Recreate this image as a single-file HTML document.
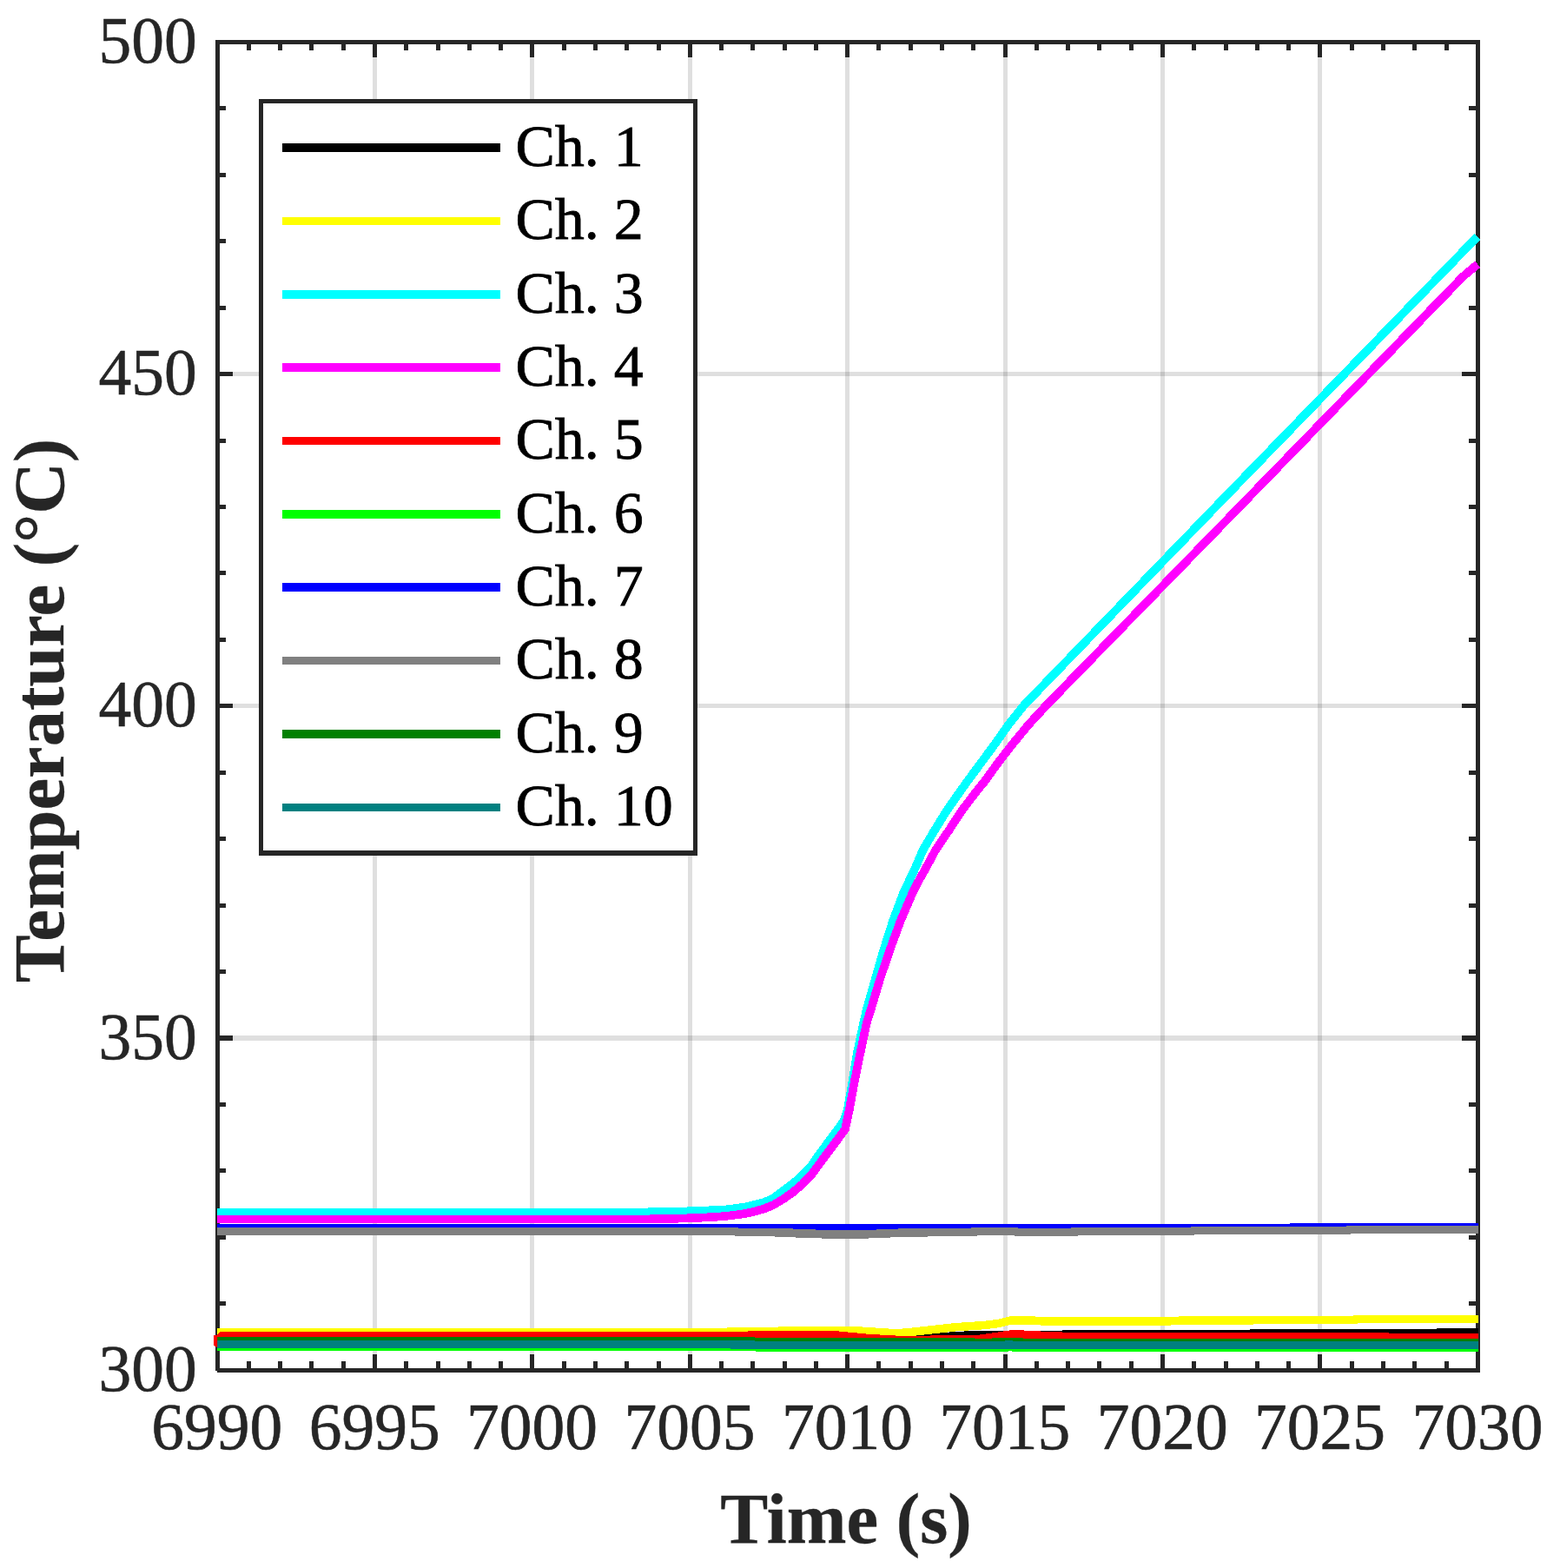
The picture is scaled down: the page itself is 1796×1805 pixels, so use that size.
<!DOCTYPE html>
<html lang="en"><head><meta charset="utf-8"><title>Temperature vs Time</title>
<style>
html,body{margin:0;padding:0;background:#fff;}
body{width:1796px;height:1805px;overflow:hidden;}
svg{display:block;}
text{font-family:"Liberation Serif",serif;}
.tk{font-size:75.5px;fill:#262626;stroke:#262626;stroke-width:0.6;}
.lb{font-size:82.5px;font-weight:bold;fill:#262626;stroke:#262626;stroke-width:0.3;}
.lg{font-size:68px;fill:#000;stroke:#000;stroke-width:0.8;}
</style></head><body>
<svg width="1796" height="1805" viewBox="0 0 1796 1805" role="img" aria-label="Temperature versus time for channels 1 to 10">
<rect x="0" y="0" width="1796" height="1805" fill="#fff"/>
<g stroke="#262626" stroke-opacity="0.15" stroke-width="5" fill="none" shape-rendering="crispEdges">
<line x1="431.50" y1="51.00" x2="431.50" y2="1575.00"/>
<line x1="612.90" y1="51.00" x2="612.90" y2="1575.00"/>
<line x1="794.30" y1="51.00" x2="794.30" y2="1575.00"/>
<line x1="975.70" y1="51.00" x2="975.70" y2="1575.00"/>
<line x1="1157.10" y1="51.00" x2="1157.10" y2="1575.00"/>
<line x1="1338.50" y1="51.00" x2="1338.50" y2="1575.00"/>
<line x1="1519.90" y1="51.00" x2="1519.90" y2="1575.00"/>
<line x1="253.00" y1="1195.00" x2="1699.00" y2="1195.00" stroke-width="6"/>
<line x1="253.00" y1="812.80" x2="1699.00" y2="812.80" stroke-width="5"/>
<line x1="253.00" y1="430.55" x2="1699.00" y2="430.55" stroke-width="5"/>
</g>
<g stroke="#262626" stroke-width="5" fill="none" shape-rendering="crispEdges">
<path d="M248 48.5H1704M1701.5 46V1580M250 1577.5H1704M250.5 46V1578"/>
<line x1="286.38" y1="48.30" x2="286.38" y2="57.80"/>
<line x1="286.38" y1="1577.30" x2="286.38" y2="1566.80"/>
<line x1="322.66" y1="48.30" x2="322.66" y2="57.80"/>
<line x1="322.66" y1="1577.30" x2="322.66" y2="1566.80"/>
<line x1="358.94" y1="48.30" x2="358.94" y2="57.80"/>
<line x1="358.94" y1="1577.30" x2="358.94" y2="1566.80"/>
<line x1="395.22" y1="48.30" x2="395.22" y2="57.80"/>
<line x1="395.22" y1="1577.30" x2="395.22" y2="1566.80"/>
<line x1="431.50" y1="48.30" x2="431.50" y2="65.80"/>
<line x1="431.50" y1="1577.30" x2="431.50" y2="1558.80"/>
<line x1="467.78" y1="48.30" x2="467.78" y2="57.80"/>
<line x1="467.78" y1="1577.30" x2="467.78" y2="1566.80"/>
<line x1="504.06" y1="48.30" x2="504.06" y2="57.80"/>
<line x1="504.06" y1="1577.30" x2="504.06" y2="1566.80"/>
<line x1="540.34" y1="48.30" x2="540.34" y2="57.80"/>
<line x1="540.34" y1="1577.30" x2="540.34" y2="1566.80"/>
<line x1="576.62" y1="48.30" x2="576.62" y2="57.80"/>
<line x1="576.62" y1="1577.30" x2="576.62" y2="1566.80"/>
<line x1="612.90" y1="48.30" x2="612.90" y2="65.80"/>
<line x1="612.90" y1="1577.30" x2="612.90" y2="1558.80"/>
<line x1="649.18" y1="48.30" x2="649.18" y2="57.80"/>
<line x1="649.18" y1="1577.30" x2="649.18" y2="1566.80"/>
<line x1="685.46" y1="48.30" x2="685.46" y2="57.80"/>
<line x1="685.46" y1="1577.30" x2="685.46" y2="1566.80"/>
<line x1="721.74" y1="48.30" x2="721.74" y2="57.80"/>
<line x1="721.74" y1="1577.30" x2="721.74" y2="1566.80"/>
<line x1="758.02" y1="48.30" x2="758.02" y2="57.80"/>
<line x1="758.02" y1="1577.30" x2="758.02" y2="1566.80"/>
<line x1="794.30" y1="48.30" x2="794.30" y2="65.80"/>
<line x1="794.30" y1="1577.30" x2="794.30" y2="1558.80"/>
<line x1="830.58" y1="48.30" x2="830.58" y2="57.80"/>
<line x1="830.58" y1="1577.30" x2="830.58" y2="1566.80"/>
<line x1="866.86" y1="48.30" x2="866.86" y2="57.80"/>
<line x1="866.86" y1="1577.30" x2="866.86" y2="1566.80"/>
<line x1="903.14" y1="48.30" x2="903.14" y2="57.80"/>
<line x1="903.14" y1="1577.30" x2="903.14" y2="1566.80"/>
<line x1="939.42" y1="48.30" x2="939.42" y2="57.80"/>
<line x1="939.42" y1="1577.30" x2="939.42" y2="1566.80"/>
<line x1="975.70" y1="48.30" x2="975.70" y2="65.80"/>
<line x1="975.70" y1="1577.30" x2="975.70" y2="1558.80"/>
<line x1="1011.98" y1="48.30" x2="1011.98" y2="57.80"/>
<line x1="1011.98" y1="1577.30" x2="1011.98" y2="1566.80"/>
<line x1="1048.26" y1="48.30" x2="1048.26" y2="57.80"/>
<line x1="1048.26" y1="1577.30" x2="1048.26" y2="1566.80"/>
<line x1="1084.54" y1="48.30" x2="1084.54" y2="57.80"/>
<line x1="1084.54" y1="1577.30" x2="1084.54" y2="1566.80"/>
<line x1="1120.82" y1="48.30" x2="1120.82" y2="57.80"/>
<line x1="1120.82" y1="1577.30" x2="1120.82" y2="1566.80"/>
<line x1="1157.10" y1="48.30" x2="1157.10" y2="65.80"/>
<line x1="1157.10" y1="1577.30" x2="1157.10" y2="1558.80"/>
<line x1="1193.38" y1="48.30" x2="1193.38" y2="57.80"/>
<line x1="1193.38" y1="1577.30" x2="1193.38" y2="1566.80"/>
<line x1="1229.66" y1="48.30" x2="1229.66" y2="57.80"/>
<line x1="1229.66" y1="1577.30" x2="1229.66" y2="1566.80"/>
<line x1="1265.94" y1="48.30" x2="1265.94" y2="57.80"/>
<line x1="1265.94" y1="1577.30" x2="1265.94" y2="1566.80"/>
<line x1="1302.22" y1="48.30" x2="1302.22" y2="57.80"/>
<line x1="1302.22" y1="1577.30" x2="1302.22" y2="1566.80"/>
<line x1="1338.50" y1="48.30" x2="1338.50" y2="65.80"/>
<line x1="1338.50" y1="1577.30" x2="1338.50" y2="1558.80"/>
<line x1="1374.78" y1="48.30" x2="1374.78" y2="57.80"/>
<line x1="1374.78" y1="1577.30" x2="1374.78" y2="1566.80"/>
<line x1="1411.06" y1="48.30" x2="1411.06" y2="57.80"/>
<line x1="1411.06" y1="1577.30" x2="1411.06" y2="1566.80"/>
<line x1="1447.34" y1="48.30" x2="1447.34" y2="57.80"/>
<line x1="1447.34" y1="1577.30" x2="1447.34" y2="1566.80"/>
<line x1="1483.62" y1="48.30" x2="1483.62" y2="57.80"/>
<line x1="1483.62" y1="1577.30" x2="1483.62" y2="1566.80"/>
<line x1="1519.90" y1="48.30" x2="1519.90" y2="65.80"/>
<line x1="1519.90" y1="1577.30" x2="1519.90" y2="1558.80"/>
<line x1="1556.18" y1="48.30" x2="1556.18" y2="57.80"/>
<line x1="1556.18" y1="1577.30" x2="1556.18" y2="1566.80"/>
<line x1="1592.46" y1="48.30" x2="1592.46" y2="57.80"/>
<line x1="1592.46" y1="1577.30" x2="1592.46" y2="1566.80"/>
<line x1="1628.74" y1="48.30" x2="1628.74" y2="57.80"/>
<line x1="1628.74" y1="1577.30" x2="1628.74" y2="1566.80"/>
<line x1="1665.02" y1="48.30" x2="1665.02" y2="57.80"/>
<line x1="1665.02" y1="1577.30" x2="1665.02" y2="1566.80"/>
<line x1="250.50" y1="1500.85" x2="260.00" y2="1500.85" stroke-width="5"/>
<line x1="1701.30" y1="1500.85" x2="1690.80" y2="1500.85" stroke-width="5"/>
<line x1="250.50" y1="1424.40" x2="260.00" y2="1424.40" stroke-width="5"/>
<line x1="1701.30" y1="1424.40" x2="1690.80" y2="1424.40" stroke-width="5"/>
<line x1="250.50" y1="1347.95" x2="260.00" y2="1347.95" stroke-width="5"/>
<line x1="1701.30" y1="1347.95" x2="1690.80" y2="1347.95" stroke-width="5"/>
<line x1="250.50" y1="1271.50" x2="260.00" y2="1271.50" stroke-width="5"/>
<line x1="1701.30" y1="1271.50" x2="1690.80" y2="1271.50" stroke-width="5"/>
<line x1="250.50" y1="1195.00" x2="268.00" y2="1195.00" stroke-width="6"/>
<line x1="1701.30" y1="1195.00" x2="1682.80" y2="1195.00" stroke-width="6"/>
<line x1="250.50" y1="1118.60" x2="260.00" y2="1118.60" stroke-width="5"/>
<line x1="1701.30" y1="1118.60" x2="1690.80" y2="1118.60" stroke-width="5"/>
<line x1="250.50" y1="1042.15" x2="260.00" y2="1042.15" stroke-width="5"/>
<line x1="1701.30" y1="1042.15" x2="1690.80" y2="1042.15" stroke-width="5"/>
<line x1="250.50" y1="965.70" x2="260.00" y2="965.70" stroke-width="5"/>
<line x1="1701.30" y1="965.70" x2="1690.80" y2="965.70" stroke-width="5"/>
<line x1="250.50" y1="889.25" x2="260.00" y2="889.25" stroke-width="5"/>
<line x1="1701.30" y1="889.25" x2="1690.80" y2="889.25" stroke-width="5"/>
<line x1="250.50" y1="812.80" x2="268.00" y2="812.80" stroke-width="5"/>
<line x1="1701.30" y1="812.80" x2="1682.80" y2="812.80" stroke-width="5"/>
<line x1="250.50" y1="736.35" x2="260.00" y2="736.35" stroke-width="5"/>
<line x1="1701.30" y1="736.35" x2="1690.80" y2="736.35" stroke-width="5"/>
<line x1="250.50" y1="659.90" x2="260.00" y2="659.90" stroke-width="5"/>
<line x1="1701.30" y1="659.90" x2="1690.80" y2="659.90" stroke-width="5"/>
<line x1="250.50" y1="583.45" x2="260.00" y2="583.45" stroke-width="5"/>
<line x1="1701.30" y1="583.45" x2="1690.80" y2="583.45" stroke-width="5"/>
<line x1="250.50" y1="507.00" x2="260.00" y2="507.00" stroke-width="5"/>
<line x1="1701.30" y1="507.00" x2="1690.80" y2="507.00" stroke-width="5"/>
<line x1="250.50" y1="430.55" x2="268.00" y2="430.55" stroke-width="5"/>
<line x1="1701.30" y1="430.55" x2="1682.80" y2="430.55" stroke-width="5"/>
<line x1="250.50" y1="354.10" x2="260.00" y2="354.10" stroke-width="5"/>
<line x1="1701.30" y1="354.10" x2="1690.80" y2="354.10" stroke-width="5"/>
<line x1="250.50" y1="277.65" x2="260.00" y2="277.65" stroke-width="5"/>
<line x1="1701.30" y1="277.65" x2="1690.80" y2="277.65" stroke-width="5"/>
<line x1="250.50" y1="201.20" x2="260.00" y2="201.20" stroke-width="5"/>
<line x1="1701.30" y1="201.20" x2="1690.80" y2="201.20" stroke-width="5"/>
<line x1="250.50" y1="124.75" x2="260.00" y2="124.75" stroke-width="5"/>
<line x1="1701.30" y1="124.75" x2="1690.80" y2="124.75" stroke-width="5"/>
</g>
<g fill="none" stroke-width="9.5" stroke-linejoin="round" stroke-linecap="butt" shape-rendering="crispEdges">
<polyline stroke="#000000" stroke-linejoin="miter" points="250.00,1539.00 1040.00,1539.00 1083.00,1538.85 1117.00,1536.85 1150.00,1536.35 1197.00,1536.50 1223.00,1536.40 1227.00,1535.75 1438.00,1535.75 1442.00,1534.70 1652.00,1534.70 1656.00,1533.85 1702.00,1533.85"/>
<polyline stroke="#ffff00" stroke-linejoin="miter" points="250.00,1533.60 836.00,1533.60 840.00,1532.75 895.00,1532.75 899.00,1531.75 984.00,1531.75 1000.00,1532.65 1018.00,1534.00 1033.00,1534.75 1048.00,1533.50 1066.80,1531.40 1100.20,1527.70 1133.60,1525.50 1150.30,1523.40 1163.70,1519.90 1190.00,1520.10 1194.00,1520.40 1200.00,1520.90 1300.00,1521.00 1351.00,1520.75 1356.80,1520.25 1445.90,1519.75 1557.90,1519.25 1562.90,1518.75 1702.00,1518.60"/>
<polyline stroke="#00ffff" stroke-width="9.7" points="250.00,1395.50 740.00,1395.50 790.00,1394.40 834.50,1392.60 856.80,1389.70 879.10,1384.40 890.20,1379.40 901.40,1371.10 912.50,1362.80 923.60,1353.30 934.80,1341.00 941.80,1330.65 957.00,1310.20 971.60,1290.40 975.90,1276.90 981.70,1243.50 987.30,1210.10 994.40,1176.70 998.30,1160.00 1007.80,1126.90 1017.40,1093.50 1028.00,1060.10 1040.60,1026.70 1048.60,1010.00 1053.30,1000.00 1062.90,977.95 1076.00,955.70 1089.80,933.40 1105.40,911.10 1113.30,900.00 1146.00,855.70 1161.70,833.40 1179.60,811.10 1406.70,576.00 1700.80,272.50"/>
<polyline stroke="#ff00ff" stroke-width="9.7" points="250.00,1403.50 740.00,1403.50 770.00,1403.00 790.00,1402.40 812.00,1401.50 834.50,1400.10 856.80,1397.20 868.00,1394.80 879.10,1391.70 890.20,1387.20 901.40,1380.50 912.50,1372.80 923.60,1363.30 934.80,1351.60 941.80,1341.95 957.00,1321.50 973.00,1300.05 977.90,1276.90 984.05,1243.50 990.85,1210.10 998.00,1176.70 1003.30,1160.00 1013.20,1126.90 1024.50,1093.50 1036.80,1060.10 1051.00,1026.70 1059.80,1010.00 1065.60,1000.00 1077.40,977.95 1092.60,955.70 1107.10,933.40 1124.05,911.10 1133.20,900.00 1149.10,877.95 1166.40,855.70 1184.90,833.40 1205.50,811.10 1424.50,586.10 1684.50,318.20 1701.20,304.20"/>
<polyline stroke="#ff0000" stroke-linejoin="miter" points="250.00,1543.50 251.00,1542.50 256.00,1537.70 860.00,1537.70 864.00,1536.70 960.00,1536.70 1000.00,1540.55 1040.00,1542.75 1100.00,1541.80 1122.00,1542.10 1150.00,1538.10 1167.00,1535.55 1177.00,1536.00 1179.00,1536.50 1196.00,1537.00 1199.00,1537.50 1221.00,1538.00 1224.00,1538.60 1596.00,1538.60 1600.00,1539.55 1702.00,1539.55"/>
<polyline stroke="#00ff00" stroke-linejoin="miter" points="250.00,1550.40 860.00,1550.50 869.00,1550.75 900.00,1551.20 1159.00,1551.20 1160.50,1550.50 1165.50,1550.50 1167.00,1551.20 1702.00,1551.20"/>
<polyline stroke="#0000ff" stroke-linejoin="miter" points="250.00,1413.60 1300.00,1413.45 1484.70,1413.25 1702.00,1413.00"/>
<polyline stroke="#808080" stroke-linejoin="miter" points="250.00,1417.50 830.00,1417.50 846.00,1417.75 850.00,1418.25 891.00,1418.75 912.50,1419.25 916.00,1419.75 938.70,1420.25 944.50,1420.75 975.00,1421.00 1002.00,1420.75 1008.80,1420.25 1025.50,1419.75 1033.90,1419.25 1069.00,1418.75 1118.00,1418.25 1124.80,1417.75 1150.00,1417.60 1168.00,1417.75 1172.00,1418.25 1200.00,1418.40 1233.70,1418.25 1240.70,1417.75 1371.50,1417.25 1374.80,1416.75 1550.00,1416.25 1554.60,1415.75 1702.00,1415.60"/>
<polyline stroke="#008000" stroke-linejoin="miter" points="250.00,1543.80 867.00,1543.80 871.00,1544.75 1120.00,1544.90 1122.00,1545.45 1142.00,1545.45 1144.00,1545.00 1176.00,1545.00 1178.00,1545.50 1702.00,1545.75"/>
<polyline stroke="#008080" stroke-linejoin="miter" points="250.00,1547.50 830.00,1547.60 840.00,1547.75 869.00,1548.25 900.00,1548.50 1157.00,1548.45 1158.50,1548.05 1165.00,1548.05 1166.50,1548.45 1702.00,1548.50"/>
</g>
<polygon points="246,1537 250.2,1537 250.2,1551 248,1550 246,1548.7" fill="#ff0000"/>
<g class="tk" text-anchor="middle">
<text x="249.80" y="1668.40">6990</text>
<text x="431.20" y="1668.40">6995</text>
<text x="612.60" y="1668.40">7000</text>
<text x="794.00" y="1668.40">7005</text>
<text x="975.40" y="1668.40">7010</text>
<text x="1156.80" y="1668.40">7015</text>
<text x="1338.20" y="1668.40">7020</text>
<text x="1519.60" y="1668.40">7025</text>
<text x="1701.00" y="1668.40">7030</text>
</g>
<g class="tk" text-anchor="end">
<text x="226.80" y="1600.90">300</text>
<text x="226.80" y="1218.65">350</text>
<text x="226.80" y="836.40">400</text>
<text x="226.80" y="454.15">450</text>
<text x="226.80" y="71.90">500</text>
</g>
<text class="lb" text-anchor="middle" x="974.00" y="1776.00">Time (s)</text>
<text class="lb" text-anchor="middle" transform="translate(72.60 818.00) rotate(-90)">Temperature (°C)</text>
<rect x="300.50" y="116.80" width="500.00" height="865.10" fill="#fff" stroke="#262626" stroke-width="5" shape-rendering="crispEdges"/>
<rect x="298" y="979" width="505" height="6" fill="#262626" shape-rendering="crispEdges"/>
<g stroke-width="9.6" shape-rendering="crispEdges">
<line x1="325.00" y1="170.00" x2="576.20" y2="170.00" stroke="#000000"/>
<line x1="325.00" y1="254.37" x2="576.20" y2="254.37" stroke="#ffff00"/>
<line x1="325.00" y1="338.74" x2="576.20" y2="338.74" stroke="#00ffff"/>
<line x1="325.00" y1="423.11" x2="576.20" y2="423.11" stroke="#ff00ff"/>
<line x1="325.00" y1="507.48" x2="576.20" y2="507.48" stroke="#ff0000"/>
<line x1="325.00" y1="591.85" x2="576.20" y2="591.85" stroke="#00ff00"/>
<line x1="325.00" y1="676.22" x2="576.20" y2="676.22" stroke="#0000ff"/>
<line x1="325.00" y1="760.59" x2="576.20" y2="760.59" stroke="#808080"/>
<line x1="325.00" y1="844.96" x2="576.20" y2="844.96" stroke="#008000"/>
<line x1="325.00" y1="929.33" x2="576.20" y2="929.33" stroke="#008080"/>
</g>
<g class="lg">
<text x="593.50" y="190.85">Ch. 1</text>
<text x="593.50" y="275.22">Ch. 2</text>
<text x="593.50" y="359.59">Ch. 3</text>
<text x="593.50" y="443.96">Ch. 4</text>
<text x="593.50" y="528.33">Ch. 5</text>
<text x="593.50" y="612.70">Ch. 6</text>
<text x="593.50" y="697.07">Ch. 7</text>
<text x="593.50" y="781.44">Ch. 8</text>
<text x="593.50" y="865.81">Ch. 9</text>
<text x="593.50" y="950.18">Ch. 10</text>
</g>
</svg>
</body></html>
